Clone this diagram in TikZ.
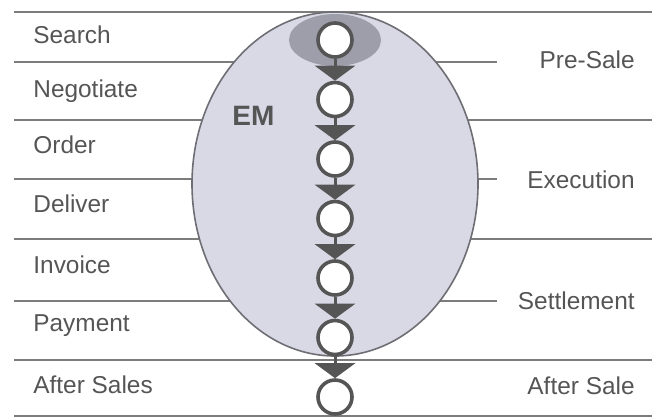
\documentclass[tikz,border=0pt]{standalone}
\usepackage{fontspec}
\setmainfont{Liberation Sans}
\usetikzlibrary{arrows.meta}
\definecolor{emfill}{HTML}{D9D9E6}
\definecolor{emline}{HTML}{6E6E74}
\definecolor{searchfill}{HTML}{9E9EAA}
\definecolor{rulegray}{HTML}{7C7C7C}
\definecolor{inkgray}{HTML}{555555}

\begin{document}
\begin{tikzpicture}[x=0.5pt, y=-0.5pt, font=\fontsize{12.2}{14}\selectfont,
  stage/.style={circle, draw=inkgray, line width=1.8pt, fill=white, minimum size=17pt, inner sep=0pt},
  flow/.style={draw=inkgray, line width=1.5pt, -{Triangle[width=20pt, length=7.5pt]}},
  rule/.style={draw=rulegray, line width=1pt},
  steplbl/.style={anchor=base west, inner sep=0pt, text=inkgray},
  phaselbl/.style={anchor=base east, inner sep=0pt, text=inkgray}]
  \useasboundingbox (0,0) rectangle (652,418);

  % rows of the trade cycle
  \foreach \y in {12,120,239,360,416}
    \draw[rule] (14,\y) -- (652,\y);
  \foreach \y in {62,179,301}
    \draw[rule] (14,\y) -- (497,\y);

  % the EM area
  \draw[draw=emline, line width=0.8pt, fill=emfill] (335,184) ellipse [x radius=143, y radius=172];
  \fill[searchfill] (335,40) ellipse [x radius=46, y radius=26];
  \node[anchor=base west, inner sep=0pt, font=\fontsize{14}{16}\selectfont\bfseries, text=inkgray] (em) at (232,125) {EM};

  % steps
  \node[steplbl] (search) at (33,43) {Search};
  \node[steplbl] (negotiate) at (33,97) {Negotiate};
  \node[steplbl] (order) at (33,153) {Order};
  \node[steplbl] (deliver) at (33,212) {Deliver};
  \node[steplbl] (invoice) at (33,273) {Invoice};
  \node[steplbl] (payment) at (33,331) {Payment};
  \node[steplbl] (aftersales) at (33,393) {After Sales};

  % phases
  \node[phaselbl] (presale) at (635,68) {Pre-Sale};
  \node[phaselbl] (execution) at (635,188) {Execution};
  \node[phaselbl] (settlement) at (635,309) {Settlement};
  \node[phaselbl] (aftersale) at (635,394) {After Sale};

  % chain of stages
  \foreach \i [evaluate=\i as \cy using 40+59.5*(\i-1)] in {1,...,7}
    \node[stage] (s\i) at (335,\cy) {};
  \foreach \i [evaluate=\i as \j using int(\i+1)] in {1,...,6}
    \draw[flow] (s\i) -- (s\j);
\end{tikzpicture}
\end{document}
